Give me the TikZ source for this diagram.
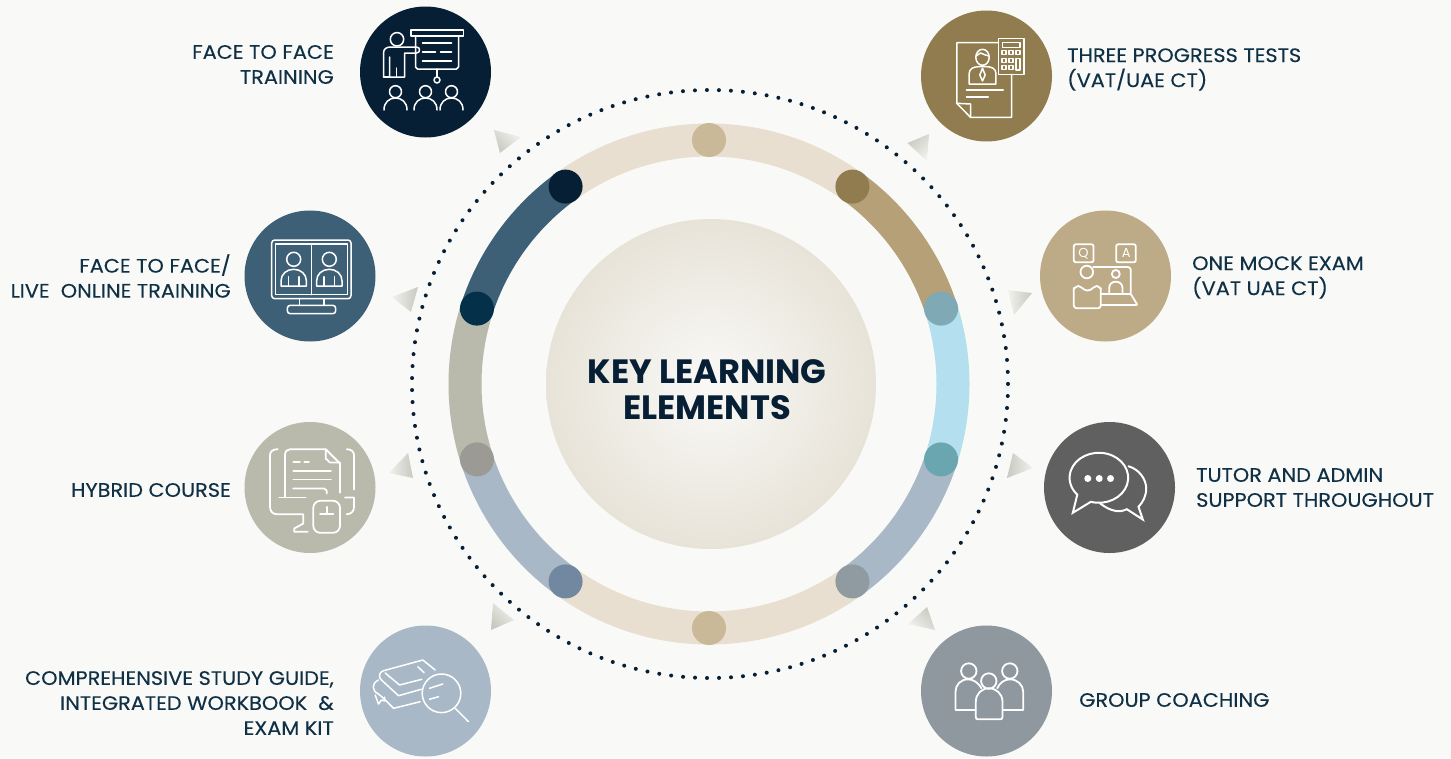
\documentclass[tikz,border=0pt]{standalone}
\usepackage{fontspec}
\setmainfont{Poppins}
\newfontfamily\labelFont{Poppins}[FakeStretch=1.07,FakeBold=0.2]
\usetikzlibrary{shapes,calc}

\definecolor{pageCol}{HTML}{F9F9F7}
\definecolor{inkCol}{HTML}{0F3045}
\definecolor{navyCol}{HTML}{071F35}
\definecolor{steelCol}{HTML}{3E6076}
\definecolor{stoneCol}{HTML}{B9B9AC}
\definecolor{mistCol}{HTML}{A9B8C7}
\definecolor{bronzeCol}{HTML}{917C4F}
\definecolor{sandCol}{HTML}{BDAB88}
\definecolor{charCol}{HTML}{606060}
\definecolor{slateCol}{HTML}{8E989E}
\definecolor{creamCol}{HTML}{E8DFD0}
\definecolor{tanCol}{HTML}{B5A078}
\definecolor{skyCol}{HTML}{B3DFEE}
\definecolor{triDark}{HTML}{C9C9C1}
\definecolor{triLight}{HTML}{F1F1ED}
\definecolor{discIn}{HTML}{FAF9F7}
\definecolor{discOut}{HTML}{E7E3D8}

\tikzset{
  iconCircle/.style={circle, minimum size=131pt, inner sep=0pt},
  ringDot/.style={circle, minimum size=34pt, inner sep=0pt},
  ringSeg/.style={line width=33pt},
  dotRing/.style={draw=navyCol, line width=4pt, line cap=round, dash pattern=on 0pt off 12pt},
  iconLine/.style={draw=white, line width=1.5pt, line cap=round, line join=round},
  leftText/.style={anchor=east, align=right, inner sep=0pt, inkCol, font=\fontsize{19.5}{25}\labelFont},
  rightText/.style={anchor=west, align=left, inner sep=0pt, inkCol, font=\fontsize{19.5}{25}\labelFont},
}

\begin{document}
\begin{tikzpicture}[x=1pt,y=-1pt]
  \useasboundingbox (0,0) rectangle (1451,758);
  \fill[pageCol] (0,0) rectangle (1451,758);

  % ring and centre
  \coordinate (ringCentre) at (709,384);
  \foreach \a/\b/\c in {-90/-54/creamCol, -54/-18/tanCol, -18/18/skyCol, 18/54/mistCol, 54/126/creamCol, 126/162/mistCol, 162/198/stoneCol, 198/234/steelCol, 234/270/creamCol}
    \draw[ringSeg, draw=\c] ([shift=(\a:244)]ringCentre) arc [start angle=\a, end angle=\b, radius=244];
  \foreach \n/\a/\c in {1/-90/C9B999, 2/-54/917C4F, 3/-18/7FA9B5, 4/18/6AA6B0, 5/54/8F9BA1, 6/90/C9B999, 7/126/7288A0, 8/162/9C9A95, 9/198/05304A, 10/234/061F35} {
    \definecolor{dotCol}{HTML}{\c}
    \node[ringDot, fill=dotCol] (dot\n) at ($(ringCentre)+(\a:244)$) {};
  }
  \draw[dotRing] (710,384) circle [x radius=298, y radius=294];
  \node[circle, minimum size=330pt, inner sep=0pt, inner color=discIn, outer color=discOut] (centreNode) at (711,384) {};
  \node[align=center, navyCol, font=\fontsize{33.7}{36}\selectfont\bfseries] (titleNode) at (707,390) {KEY LEARNING\\ELEMENTS};

  % small triangles
  \foreach \ax/\ay/\bx/\by/\cx/\cy/\s in {494/130/521/137/500/153/-45, 907.5/143/929/134/927/161/-135, 392/297/418/287/411/312/90, 1008/290/1032/293/1014/315/90, 389/473/408/453/413/478/90, 1013/453/1033/468/1007/478/-90, 493/603/514/620/491/630/-45, 908/624/927/607/935/630/135}
    \shade[bottom color=triDark, top color=triLight, shading angle=\s] (\ax,\ay) -- (\bx,\by) -- (\cx,\cy) -- cycle;

  % icon circles
  \node[iconCircle, fill=navyCol] (faceNode) at (425.5,72) {};
  \node[iconCircle, fill=bronzeCol] (testsNode) at (986.5,76) {};
  \node[iconCircle, fill=steelCol] (liveNode) at (310,276) {};
  \node[iconCircle, fill=sandCol] (mockNode) at (1105.5,276) {};
  \node[iconCircle, fill=stoneCol] (hybridNode) at (310,487.5) {};
  \node[iconCircle, fill=charCol] (tutorNode) at (1109.5,487.5) {};
  \node[iconCircle, fill=mistCol] (guideNode) at (425.5,691) {};
  \node[iconCircle, fill=slateCol] (coachNode) at (986.5,691) {};

  % labels
  \node[leftText] (faceText) at (334,64.5) {FACE TO FACE\\TRAINING};
  \node[leftText] (liveText) at (231,276) {FACE TO FACE/\\LIVE\ \ ONLINE TRAINING};
  \node[leftText] (hybridText) at (231,490) {HYBRID COURSE};
  \node[leftText] (guideText) at (334,703) {COMPREHENSIVE STUDY GUIDE,\\INTEGRATED WORKBOOK\ \ \&\\EXAM KIT};
  \node[rightText] (testsText) at (1067,69.5) {THREE PROGRESS TESTS\\(VAT/UAE CT)};
  \node[rightText] (mockText) at (1192,277.5) {ONE MOCK EXAM\\(VAT UAE CT)};
  \node[rightText] (tutorText) at (1196,487.5) {TUTOR AND ADMIN\\SUPPORT THROUGHOUT};
  \node[rightText] (coachText) at (1079,700) {GROUP COACHING};

  % presenter and audience
  \begin{scope}[shift={(faceNode)}, iconLine]
    \draw (-28.5,-32.7) circle [radius=6.7];
    \draw (-42,5) -- (-42,-19) .. controls (-42,-23) and (-39,-25) .. (-35,-25) -- (-9,-25) .. controls (-5,-25) and (-5,-19) .. (-9,-19) -- (-21,-19) -- (-21,5) -- (-36,5) -- (-36,-15);
    \draw (-42,5) -- (-36,5) (-29,-4) -- (-29,5);
    \draw (-14.5,-42) rectangle (38,-36);
    \draw (-10,-36) -- (-10,-5) -- (-8,-3) -- (31,-3) -- (33,-5) -- (33,-36);
    \draw (11.5,-3) -- (11.5,5);
    \draw (11.5,8) circle [radius=3];
    \draw (-3,-29) -- (26,-29) (-3,-20) -- (10,-20) (15,-20) -- (26,-20) (-3,-11) -- (26,-11);
    \foreach \x in {-30,0,26} {
      \draw[xshift=\x pt] (0,19.7) circle [radius=6];
      \draw[xshift=\x pt] (-11.5,38) .. controls (-11.5,30) and (-6,26) .. (0,26) .. controls (6,26) and (11.5,30) .. (11.5,38);
    }
  \end{scope}

  % document and calculator
  \begin{scope}[shift={(testsNode)}, iconLine]
    \draw (12,-33.3) -- (-29.7,-33.3) -- (-29.7,27.3) -- (-16,41.3) -- (25,41.3) -- (25,-1.7);
    \draw (-29.7,27.3) -- (-16,28) -- (-16,41.3);
    \draw (12,-37.7) rectangle (37.3,-1.7);
    \draw (16,-33.3) rectangle (33.3,-28.7);
    \foreach \x/\y in {17.7/-23.3, 24.7/-23.3, 31.7/-23.3, 17.7/-15.7, 24.7/-15.7, 17.7/-8.3, 24.7/-8.3}
      \draw[xshift=\x pt, yshift=-\y pt] (-2,-2) rectangle (2,2);
    \draw (29.7,-17.7) rectangle (33.7,-6);
    \draw (-4,-18.7) ellipse [x radius=6.7, y radius=8];
    \draw (-10.5,-20) -- (-6,-23) -- (-1,-21) -- (2.5,-20);
    \draw (-17.3,8) -- (-17.3,-2.7) .. controls (-17.3,-7) and (-13,-9.3) .. (-8.3,-9.3) -- (0.7,-9.3) .. controls (5,-9.3) and (9.3,-7) .. (9.3,-3.3) -- (9.3,8) -- cycle;
    \draw (-4,-7.7) -- (-6.7,-1) -- (-4,5) -- (-1.3,-1) -- cycle;
    \draw (-20,14) -- (16.7,14) (-20,21) -- (1.7,21);
  \end{scope}

  % monitor with two people
  \begin{scope}[shift={(liveNode)}, iconLine]
    \draw[rounded corners=3pt] (-38.3,-36) rectangle (41,22.7);
    \draw (-34.3,-32) rectangle (37.3,18.7);
    \draw (1.7,-32) -- (1.7,18.7);
    \draw (-10.7,22.7) -- (-10.7,29.3) (14,22.7) -- (14,29.3);
    \draw[rounded corners=3pt] (-22.7,29.3) rectangle (25.7,37.7);
    \foreach \x in {-16.3,19.3} {
      \draw[xshift=\x pt] (0,-16.7) circle [radius=7];
      \draw[xshift=\x pt] (-12.7,10) -- (-12.7,5) .. controls (-12.7,-2) and (-7,-6.7) .. (0,-6.7) .. controls (7,-6.7) and (12.7,-2) .. (12.7,5) -- (12.7,10) -- cycle;
      \draw[xshift=\x pt] (-5.4,0.7) -- (-5.4,10) (5.4,0.7) -- (5.4,10);
    }
  \end{scope}

  % question and answer
  \begin{scope}[shift={(mockNode)}, iconLine, line width=1.8pt]
    \draw[rounded corners=2pt] (-31.7,-31.7) rectangle (-12,-13.7);
    \draw[rounded corners=2pt] (10.7,-31.7) rectangle (30.3,-13.7);
    \node[white, font=\fontsize{13}{13}\selectfont] (qText) at (-22,-22.7) {Q};
    \node[white, font=\fontsize{13}{13}\selectfont] (aText) at (20.7,-22.7) {A};
    \draw (-18.7,-4) circle [radius=6.3];
    \draw[rounded corners=3pt] (-12.3,-9) -- (25.3,-9) -- (25.3,18);
    \draw[rounded corners=1pt] (-4.7,18) -- (25.3,18) -- (32,29) -- (-4.7,29);
    \draw (10.3,-2) circle [radius=4];
    \draw (3.7,16.7) -- (3.7,12) .. controls (3.7,8) and (6.5,5.7) .. (10.3,5.7) .. controls (14,5.7) and (17,8) .. (17,12) -- (17,16.7);
    \draw[rounded corners=3pt] (-31.7,12) -- (-31.7,32.3) -- (-4.7,32.3) -- (-4.7,12);
    \draw (-31.7,13) .. controls (-28,9) and (-26,9.5) .. (-24,11.5) .. controls (-20,15.5) and (-16,15.5) .. (-12,11.5) .. controls (-10,9.5) and (-8,9) .. (-4.7,13);
  \end{scope}

  % desktop and document
  \begin{scope}[shift={(hybridNode)}, iconLine, line width=1.8pt]
    \draw (-32.3,-38.3) .. controls (-37,-38.3) and (-40,-36) .. (-40,-32.3) -- (-40,19.3) .. controls (-40,24) and (-37,26.7) .. (-33.3,26.7) -- (-6.7,26.7) -- (-6.7,36) -- (-15.7,41) -- (-15.7,44.3) -- (-2.3,44.3);
    \draw (36.7,-38.3) .. controls (41,-38.3) and (44,-36) .. (44,-32.3) -- (44,2);
    \draw (35,10) -- (44,10) -- (44,19.3) .. controls (44,24) and (41,26.7) .. (36.7,26.7);
    \draw (-25,10) -- (-25,-32.3) .. controls (-25,-36) and (-23,-38.3) .. (-20,-38.3) -- (15.7,-38.3) -- (30,-24) -- (30,5.3);
    \draw (15.7,-38.3) -- (15.7,-29) -- (20,-25) -- (30,-25);
    \draw (-30.7,10) -- (-4.3,10);
    \draw (-16.7,-25.7) -- (-10,-25.7) (-5.7,-25.7) -- (-1,-25.7);
    \draw (-16.7,-16.7) -- (21,-16.7) (-16.7,-8) -- (21,-8);
    \draw (-16.7,1) -- (14,1) -- (16.7,3) -- (16.7,6);
    \draw[rounded corners=7pt] (3.3,13.3) rectangle (30,45.3);
    \draw (10,26.7) -- (23.3,26.7) (16.7,19.3) -- (16.7,26.7);
  \end{scope}

  % speech bubbles
  \begin{scope}[shift={(tutorNode)}, iconLine, line width=2pt, line join=miter]
    \draw (-18.7,14.3) arc [start angle=106, end angle=-222.5, x radius=29.3, y radius=25] -- (-36.7,25.3) -- cycle;
    \draw (19,-21.3) .. controls (30,-18) and (36.7,-8) .. (36.7,1) .. controls (36.7,9) and (33,15) .. (29,19.3) -- (33.3,32) -- (17.3,21.7) .. controls (13,24) and (8,24) .. (5.7,23.3) .. controls (1,22.5) and (-4,20) .. (-9.3,16);
    \foreach \x in {-21.7,-10.3,1}
      \fill[white] (\x,-9) circle [radius=3.5];
  \end{scope}

  % books and magnifier
  \begin{scope}[shift={(guideNode)}, iconLine]
    \draw (9.7,-21) -- (-2.7,-31) -- (-42,-20.3) .. controls (-47,-19) and (-47,-13) .. (-44,-11) -- (-27,4.7) -- (-4.3,-1.7);
    \draw (-40.3,-18) -- (-26,-6) -- (-3.7,-11.7);
    \draw (-7.7,-24.3) -- (-1.3,-18.3);
    \draw (-47,-11) .. controls (-54,-8) and (-54,0) .. (-47,3) -- (-42,7.3) -- (-32,17.3) -- (-5.3,10.7);
    \draw (-50.3,4) -- (-47,13) -- (-44,9) -- (-41,10) -- (-41,6);
    \draw (16,2.3) circle [radius=19.3];
    \draw (29.7,17.3) -- (43,30.7);
    \draw (4,-2.7) -- (17.3,-7) (4,8.3) -- (13,5.7);
  \end{scope}

  % three people
  \begin{scope}[shift={(coachNode)}, iconLine, line width=1.8pt]
    \draw (-17.7,-20) circle [radius=7.7];
    \draw (23.3,-20) circle [radius=7.7];
    \draw (2.3,-10) circle [radius=7.7];
    \draw (-5,-2.7) .. controls (-8,-8) and (-13,-11.7) .. (-18.3,-11.7) .. controls (-26,-11.7) and (-31,-6) .. (-31,0.7) -- (-31,19) -- (-10.7,19);
    \draw (10.7,-2.7) .. controls (13,-8) and (18,-11.7) .. (23.3,-11.7) .. controls (31,-11.7) and (36.7,-6) .. (36.7,0.7) -- (36.7,19) -- (16,19);
    \draw (-10.7,26) -- (-10.7,10.7) .. controls (-10.7,3) and (-5,-2.7) .. (2.3,-2.7) .. controls (10,-2.7) and (16,3) .. (16,10.7) -- (16,26) .. controls (16,27.5) and (15,28.3) .. (14,28.3) -- (-8.7,28.3) .. controls (-10,28.3) and (-10.7,27.5) .. (-10.7,26);
  \end{scope}
\end{tikzpicture}
\end{document}
